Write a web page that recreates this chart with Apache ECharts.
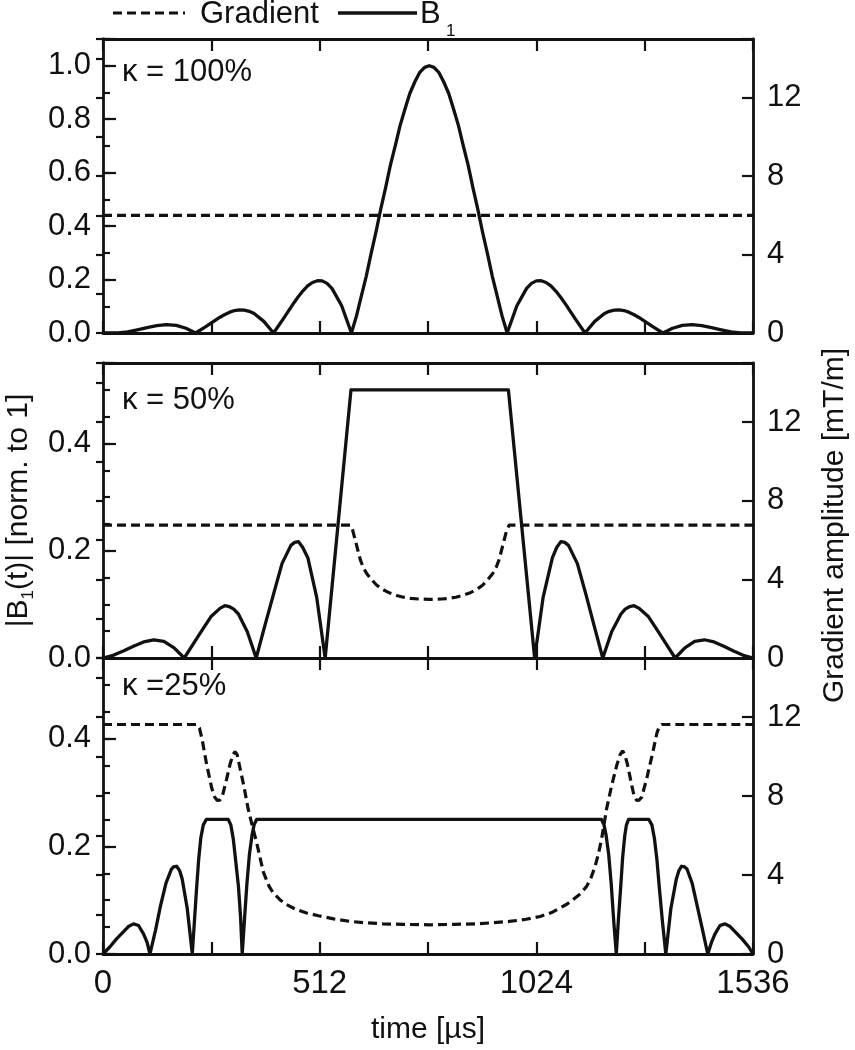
<!DOCTYPE html>
<html><head><meta charset="utf-8">
<script src="https://cdn.jsdelivr.net/npm/echarts/dist/echarts.min.js"></script>
<style>html,body{margin:0;padding:0;background:#fff}#c{width:855px;height:1050px}</style>
</head><body><div id="c"></div>
<script>
// ---------- data (time in µs, B1 normalised, gradient in mT/m) ----------
const timeLabels = [0, 512, 1024, 1536];
const b1LabelStep = 0.2;
const gradLabelStep = 4;
const kappaLabels = ['\u03BA = 100%', '\u03BA = 50%', '\u03BA =25%'];
const b1Max = [1.1, 0.55, 0.55];
const b1MinorStep = [0.1, 0.05, 0.05];
const gradMax = 15;
const gradMinorStep = 2;

const b1_k100 = [[0,0],[35,0],[58,0.0044],[81,0.012],[104,0.0203],[127,0.0273],[150,0.0314],[173,0.0284],[196,0.0179],[219,0],
 [242,0.0229],[265,0.0474],[276.5,0.0591],[288,0.0694],[299.5,0.078],[311,0.084],[322.5,0.0865],[334,0.0854],[345.5,0.0813],[357,0.073],[380,0.0436],[403,0],
 [426,0.053],[449,0.108],[460.5,0.134],[472,0.157],[483.5,0.176],[495,0.189],[506.5,0.1955],[518,0.195],[529.5,0.1856],[541,0.167],[564,0.102],[587,0],
 [599,0.064],[610,0.135],[622,0.212],[633,0.293],[645,0.377],[656,0.461],[668,0.545],[679,0.627],[691,0.703],[702,0.776],[714,0.840],[725,0.896],[737,0.940],[748,0.974],[760,0.994],[771,1.0],
 [782,0.994],[794,0.974],[805,0.940],[817,0.896],[828,0.840],[840,0.776],[851,0.703],[863,0.627],[874,0.545],[886,0.461],[897,0.377],[909,0.293],[920,0.212],[932,0.135],[943,0.064],[955,0],
 [978,0.102],[1001,0.167],[1012.5,0.1856],[1024,0.195],[1035.5,0.1955],[1047,0.189],[1058.5,0.176],[1070,0.157],[1081.5,0.134],[1093,0.108],[1116,0.053],[1139,0],
 [1162,0.0436],[1185,0.073],[1196.5,0.0813],[1208,0.0854],[1219.5,0.0865],[1231,0.084],[1242.5,0.078],[1254,0.0694],[1265.5,0.0591],[1277,0.0474],[1300,0.0229],[1323,0],
 [1346,0.0179],[1369,0.0284],[1392,0.0314],[1415,0.0273],[1438,0.0203],[1461,0.012],[1484,0.0044],[1507,0],[1536,0]];
const grad_k100 = [[0,6.0],[1536,6.0]];

const b1_k50 = [[0,0],[24,0.005],[48,0.013],[72,0.022],[96,0.030],[120,0.034],[144,0.031],[168,0.019],[192,0],
 [213,0.026],[235,0.053],[256,0.078],[277,0.093],[288,0.0975],[298,0.096],[309,0.091],[320,0.082],[341,0.049],[362,0],
 [382,0.059],[403,0.119],[423,0.176],[444,0.210],[453,0.2155],[462,0.217],[472,0.206],[484,0.187],[505,0.113],[525,0],
 [586,0.5],[958,0.5],[1020,0],
 [1040,0.113],[1062,0.187],[1072,0.206],[1082,0.217],[1091,0.2155],[1100,0.210],[1121,0.176],[1141,0.119],[1161,0.059],[1181,0],
 [1202,0.049],[1224,0.082],[1234,0.091],[1245,0.096],[1255,0.0975],[1266,0.093],[1288,0.078],[1309,0.053],[1331,0.026],[1352,0],
 [1375,0.019],[1398,0.031],[1421,0.034],[1444,0.030],[1467,0.022],[1490,0.013],[1513,0.005],[1536,0]];
const grad_k50 = [[0,6.76],[584,6.76],[590,6.5],[596,6.0],[602,5.5],[608,5.0],[615,4.6],[623,4.3],[634,4.0],[647,3.7],
 [662,3.47],[678,3.3],[694,3.18],[710,3.09],[728,3.03],[745,3.0],[772,2.98],[800,3.0],[817,3.03],[834,3.09],
 [850,3.18],[866,3.3],[882,3.47],[897,3.7],[910,4.0],[921,4.3],[929,4.6],[936,5.0],[942,5.5],[948,6.0],
 [954,6.5],[960,6.76],[1536,6.76]];

const b1_k25 = [[0,0],[16,0.013],[32,0.028],[48,0.041],[60,0.051],[72,0.056],[84,0.053],[96,0.037],[104,0.022],[111,0],
 [124,0.044],[136,0.090],[149,0.132],[162,0.158],[168,0.1625],[174,0.163],[181,0.155],[187,0.140],[199,0.085],[211,0],
 [216,0.06],[221,0.12],[226,0.175],[231,0.215],[237,0.24],[244,0.25],[296,0.25],[302,0.24],[308,0.213],[314,0.17],[320,0.126],[325,0.07],[329,0],
 [334,0.06],[340,0.13],[346,0.185],[352,0.22],[357,0.24],[363,0.25],
 [1178,0.25],[1184,0.24],[1189,0.22],[1195,0.185],[1201,0.13],[1207,0.06],[1213,0],
 [1218,0.065],[1223,0.12],[1228,0.18],[1233,0.22],[1237,0.24],[1242,0.25],[1290,0.25],[1297,0.24],[1303,0.215],[1309,0.175],[1315,0.12],[1322,0.06],[1330,0],
 [1342,0.085],[1355,0.140],[1361,0.155],[1367,0.163],[1373,0.1625],[1380,0.158],[1392,0.132],[1404,0.090],[1417,0.044],[1429,0],
 [1438,0.022],[1446,0.037],[1458,0.053],[1470,0.056],[1482,0.051],[1494,0.041],[1510,0.028],[1526,0.013],[1536,0]];
const grad_k25 = [[0,11.63],[222,11.63],[228,11.45],[234,10.9],[245,9.6],[257,8.4],[264,7.95],[270,7.78],[276,7.8],[282,8.0],
 [292,8.85],[300,9.6],[307,10.1],[312,10.25],[317,10.1],[324,9.4],[333,8.5],[343,7.35],[351,6.65],[363,5.65],
 [379,4.15],[392,3.45],[402,3.1],[418,2.75],[434,2.5],[457,2.25],[481,2.08],[509,1.94],[545,1.78],[584,1.65],
 [622,1.58],[662,1.53],[710,1.5],[771,1.48],[830,1.5],[880,1.53],[920,1.58],[960,1.65],[1000,1.76],[1033,1.9],
 [1060,2.1],[1080,2.33],[1096,2.52],[1111,2.76],[1128,3.05],[1143,3.43],[1153,3.85],[1163,4.45],[1171,5.1],[1178,5.8],
 [1190,7.35],[1202,8.54],[1214,9.56],[1222,10.1],[1228,10.3],[1233,10.1],[1239,9.64],[1249,8.6],[1255,8.0],[1261,7.78],
 [1267,7.8],[1273,7.95],[1285,8.9],[1300,10.3],[1309,11.2],[1314,11.5],[1320,11.63],[1536,11.63]];

// ---------- layout & style ----------
const FONT = '"Liberation Sans", Arial, Helvetica, sans-serif';
const INK = '#111';
const PLOT_LEFT = 103, PLOT_W = 650;
const panelBoxes = [{top:39,height:294},{top:363,height:295},{top:658,height:296}];
const b1Series = [b1_k100, b1_k50, b1_k25];
const gradSeries = [grad_k100, grad_k50, grad_k25];
const kappaY = [72, 400, 686];

const isMult = (v, s) => Math.abs(v / s - Math.round(v / s)) < 1e-6;

const grids = [], xAxes = [], yAxes = [], series = [];
panelBoxes.forEach((b, i) => {
  grids.push({left: PLOT_LEFT, top: b.top, width: PLOT_W, height: b.height, show: false,
    containLabel: false, outerBoundsMode: 'none'});
  ['bottom', 'top'].forEach(pos => {
    const lab = (pos === 'bottom' && i === 2);
    xAxes.push({
      type: 'value', gridIndex: i, position: pos, min: 0, max: 1536, interval: 256,
      axisLine: {show: true, onZero: false, lineStyle: {color: INK, width: 2.8}},
      axisTick: {show: true, inside: true, length: 12, lineStyle: {color: INK, width: 2.2}},
      axisLabel: {show: lab, margin: 13, fontSize: 33, color: INK, fontFamily: FONT,
        formatter: v => timeLabels.indexOf(Math.round(v)) >= 0 ? String(Math.round(v)) : ''},
      splitLine: {show: false},
      name: lab ? 'time [\u00B5s]' : '', nameLocation: 'middle', nameGap: 61,
      nameTextStyle: {fontSize: 30, color: INK, fontFamily: FONT}
    });
  });
  // left major
  yAxes.push({
    type: 'value', gridIndex: i, position: 'left', min: 0, max: b1Max[i], interval: b1LabelStep,
    axisLine: {show: true, onZero: false, lineStyle: {color: INK, width: 2.8}},
    axisTick: {show: true, inside: true, length: 13, lineStyle: {color: INK, width: 2.2}},
    axisLabel: {margin: 12, fontSize: 31, color: INK, fontFamily: FONT,
      formatter: v => isMult(v, b1LabelStep) ? v.toFixed(1) : ''},
    splitLine: {show: false},
    name: i === 1 ? '|B{s|1}(t)| [norm. to 1]' : '', nameLocation: 'middle', nameGap: 66, nameRotate: 90,
    nameTextStyle: {fontSize: 30, lineHeight: 36, color: INK, fontFamily: FONT,
      rich: {s: {fontSize: 17, color: INK, fontFamily: FONT, verticalAlign: 'bottom', lineHeight: 17}}}
  });
  // left minor
  yAxes.push({
    type: 'value', gridIndex: i, position: 'left', min: 0, max: b1Max[i], interval: b1MinorStep[i],
    axisLine: {show: false}, axisLabel: {show: false}, splitLine: {show: false},
    axisTick: {show: true, inside: true, length: 7, lineStyle: {color: INK, width: 2.2}}
  });
  // right major
  yAxes.push({
    type: 'value', gridIndex: i, position: 'right', min: 0, max: gradMax, interval: gradLabelStep,
    axisLine: {show: true, onZero: false, lineStyle: {color: INK, width: 2.8}},
    axisTick: {show: true, inside: true, length: 11, lineStyle: {color: INK, width: 2.2}},
    axisLabel: {margin: 14, fontSize: 31, color: INK, fontFamily: FONT,
      formatter: v => isMult(v, gradLabelStep) ? String(Math.round(v)) : ''},
    splitLine: {show: false},
    name: i === 1 ? 'Gradient amplitude [mT/m]' : '', nameLocation: 'middle', nameGap: 67, nameRotate: 90,
    nameTextStyle: {fontSize: 30, color: INK, fontFamily: FONT, padding: [0, 30, 0, 0]}
  });
  // right minor
  yAxes.push({
    type: 'value', gridIndex: i, position: 'right', min: 0, max: gradMax, interval: gradMinorStep,
    axisLine: {show: false}, axisLabel: {show: false}, splitLine: {show: false},
    axisTick: {show: true, inside: true, length: 7, lineStyle: {color: INK, width: 2.2}}
  });
  series.push({
    name: 'Gradient', type: 'line', xAxisIndex: 2 * i, yAxisIndex: 4 * i + 2,
    data: gradSeries[i], symbol: 'none', smooth: false,
    lineStyle: {color: INK, width: 3.2, type: [9, 5]}, z: 3
  });
  series.push({
    name: 'B1', type: 'line', xAxisIndex: 2 * i, yAxisIndex: 4 * i,
    data: b1Series[i], symbol: 'none', smooth: false,
    lineStyle: {color: INK, width: 3.3, join: 'round'}, z: 4
  });
});

const graphics = [
  {type: 'line', shape: {x1: 113, y1: 13, x2: 185, y2: 13}, style: {stroke: INK, lineWidth: 3.2, lineDash: [9, 5]}},
  {type: 'text', x: 200, y: 14, style: {text: 'Gradient', fontSize: 31, fontFamily: FONT, fill: INK, verticalAlign: 'middle', align: 'left'}},
  {type: 'line', shape: {x1: 338, y1: 13, x2: 417, y2: 13}, style: {stroke: INK, lineWidth: 3.3}},
  {type: 'text', x: 420, y: 14, style: {text: 'B', fontSize: 31, fontFamily: FONT, fill: INK, verticalAlign: 'middle', align: 'left'}},
  {type: 'text', x: 446, y: 31, style: {text: '1', fontSize: 17, fontFamily: FONT, fill: INK, verticalAlign: 'middle', align: 'left'}}
];
kappaLabels.forEach((t, i) => graphics.push({
  type: 'text', x: 122, y: kappaY[i],
  style: {text: t, fontSize: 31, fontFamily: FONT, fill: INK, verticalAlign: 'middle', align: 'left'}
}));

const chart = echarts.init(document.getElementById('c'), null, {renderer: 'canvas'});
chart.setOption({
  animation: false,
  backgroundColor: '#fff',
  grid: grids, xAxis: xAxes, yAxis: yAxes, series: series,
  graphic: graphics
});
</script></body></html>
